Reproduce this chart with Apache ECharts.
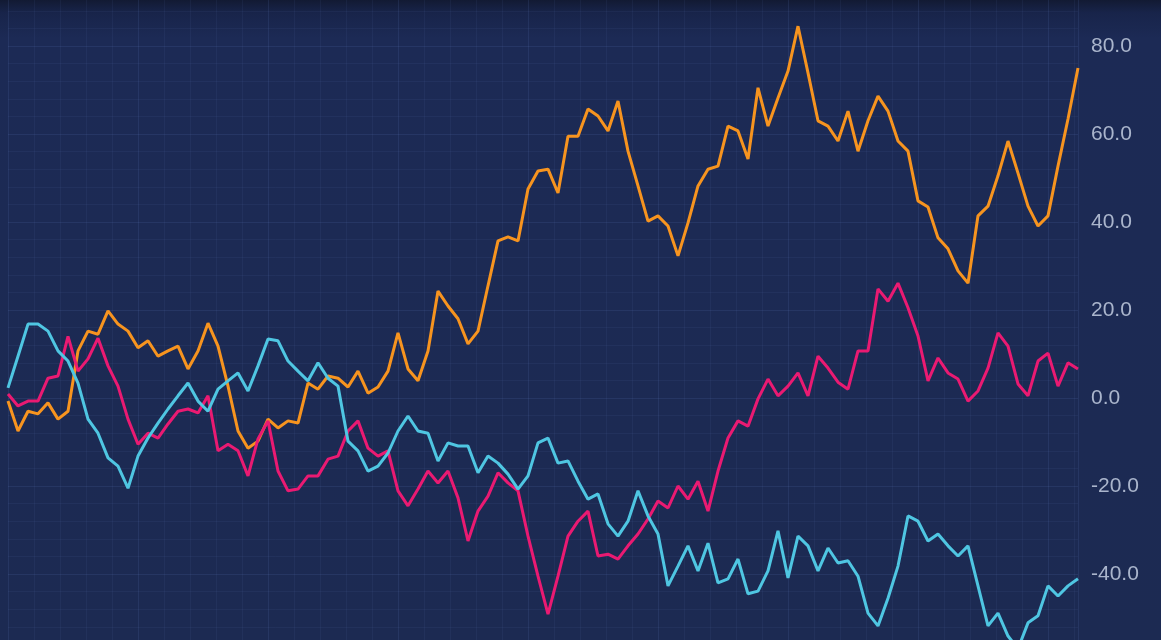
<!DOCTYPE html>
<html>
<head>
<meta charset="utf-8">
<script src="https://cdn.jsdelivr.net/npm/echarts@6/dist/echarts.min.js"></script>
<style>
html,body{margin:0;padding:0;background:#1c2a54;}
#chart{width:1161px;height:640px;}
</style>
</head>
<body>
<div id="chart"></div>
<script>
// Y tick labels (shown on right)
const yTicks = [-60, -40, -20, 0, 20, 40, 60, 80, 100];

// Series values (one value per step)
const orangeValues = [
  -0.7, -7.5, -3.0, -3.6, -1.1, -4.8, -3.0, 10.7, 15.2, 14.5,
  19.8, 16.8, 15.2, 11.4, 13.0, 9.5, 10.7, 11.8, 6.6, 10.7,
  17.0, 11.8, 2.7, -7.5, -11.4, -9.8, -4.8, -6.8, -5.2, -5.7,
  3.4, 2.0, 5.0, 4.5, 2.5, 6.1, 1.1, 2.5, 6.1, 14.8,
  6.6, 3.9, 10.7, 24.3, 20.9, 18.0, 12.3, 15.2, 25.5, 35.7,
  36.6, 35.7, 47.5, 51.6, 52.0, 46.6, 59.5, 59.5, 65.7, 64.1,
  60.7, 67.5, 56.1, 48.2, 40.2, 41.4, 39.1, 32.3, 39.8, 48.2,
  52.0, 52.7, 61.8, 60.7, 54.3, 70.5, 61.8, 68.2, 74.3, 84.5,
  73.9, 63.0, 61.8, 58.4, 65.2, 56.1, 63.0, 68.6, 65.2, 58.4,
  56.1, 44.8, 43.4, 36.4, 33.9, 28.9, 26.1, 41.4, 43.6, 50.5,
  58.4, 51.1, 43.6, 39.1, 41.4, 52.7, 63.4, 75.0
];
const pinkValues = [
  0.9, -1.8, -0.7, -0.7, 4.5, 5.0, 14.0, 6.1, 8.9, 13.6,
  7.3, 2.7, -4.8, -10.5, -8.0, -9.1, -5.9, -3.0, -2.5, -3.4,
  0.5, -12.0, -10.5, -12.0, -17.7, -9.3, -5.2, -16.6, -21.1, -20.7,
  -17.7, -17.7, -13.9, -13.2, -7.5, -5.2, -11.4, -13.2, -12.0, -21.1,
  -24.5, -20.7, -16.6, -19.3, -16.6, -22.7, -32.5, -25.7, -22.3, -17.0,
  -19.3, -21.1, -31.4, -40.5, -49.1, -40.5, -31.4, -28.0, -25.7, -35.9,
  -35.5, -36.6, -33.6, -30.9, -27.5, -23.4, -25.0, -20.0, -23.0, -18.9,
  -25.7, -16.6, -9.1, -5.2, -6.4, -0.2, 4.3, 0.5, 2.7, 5.7,
  0.5, 9.5, 6.8, 3.6, 2.0, 10.7, 10.7, 24.8, 22.0, 26.1,
  20.5, 14.1, 3.9, 9.1, 5.7, 4.3, -0.7, 1.6, 6.8, 14.8,
  11.8, 3.2, 0.5, 8.4, 10.2, 2.7, 8.0, 6.6
];
const cyanValues = [
  2.3, 9.5, 16.8, 16.8, 15.2, 10.7, 8.4, 3.4, -4.8, -8.0,
  -13.6, -15.5, -20.5, -13.2, -9.1, -5.7, -2.5, 0.5, 3.4, -0.7,
  -3.0, 2.0, 3.9, 5.7, 1.6, 7.3, 13.4, 13.0, 8.4, 6.1,
  3.9, 8.0, 4.5, 2.7, -9.8, -12.0, -16.6, -15.5, -12.5, -7.5,
  -4.1, -7.5, -8.0, -14.3, -10.2, -10.9, -10.9, -17.0, -13.2, -14.8,
  -17.3, -20.7, -17.7, -10.2, -9.1, -14.8, -14.3, -18.9, -23.0, -21.8,
  -28.6, -31.4, -28.0, -21.1, -26.8, -30.9, -42.7, -38.2, -33.6, -39.3,
  -33.0, -42.0, -41.1, -36.6, -44.5, -43.9, -39.3, -30.2, -40.9, -31.4,
  -33.6, -39.3, -34.1, -37.5, -37.0, -40.5, -48.9, -51.8, -45.5, -38.2,
  -26.8, -28.0, -32.5, -30.9, -33.6, -35.9, -33.6, -42.7, -51.8, -48.9,
  -54.1, -57.0, -51.1, -49.5, -42.7, -45.0, -42.7, -41.1
];

const steps = orangeValues.map((_, i) => i);
const toPairs = vals => vals.map((v, i) => [steps[i], v]);

const chart = echarts.init(document.getElementById('chart'), null, {renderer: 'canvas'});
chart.setOption({
  animation: false,
  backgroundColor: {
    type: 'linear', x: 0, y: 0, x2: 0, y2: 1,
    colorStops: [
      {offset: 0, color: '#121a33'},
      {offset: 0.02, color: '#18244a'},
      {offset: 0.06, color: '#1c2a55'},
      {offset: 1, color: '#1c2a52'}
    ]
  },
  grid: {left: 8, right: 83, top: -42, bottom: -22, containLabel: false, outerBoundsMode: 'none'},
  xAxis: {
    type: 'value',
    min: 0,
    max: steps[steps.length - 1],
    interval: 13,
    axisLine: {show: false},
    axisTick: {show: false},
    axisLabel: {show: false},
    splitLine: {show: true, lineStyle: {color: 'rgba(110,140,210,0.13)', width: 1}},
    minorTick: {show: false, splitNumber: 5},
    minorSplitLine: {show: true, lineStyle: {color: 'rgba(110,140,210,0.07)', width: 1}}
  },
  yAxis: {
    type: 'value',
    position: 'right',
    min: yTicks[0],
    max: yTicks[yTicks.length - 1],
    interval: 20,
    axisLine: {show: false},
    axisTick: {show: false},
    axisLabel: {
      show: true,
      margin: 13,
      color: '#aab5cc',
      fontSize: 21,
      fontFamily: 'Liberation Sans, Arial, sans-serif',
      formatter: v => v.toFixed(1)
    },
    splitLine: {show: true, lineStyle: {color: 'rgba(110,140,210,0.13)', width: 1}},
    minorTick: {show: false, splitNumber: 5},
    minorSplitLine: {show: true, lineStyle: {color: 'rgba(110,140,210,0.07)', width: 1}}
  },
  series: [
    {type: 'line', data: toPairs(orangeValues), showSymbol: false, lineStyle: {color: '#f7941f', width: 3}, itemStyle: {color: '#f7941f'}},
    {type: 'line', data: toPairs(pinkValues), showSymbol: false, lineStyle: {color: '#ea1a72', width: 3}, itemStyle: {color: '#ea1a72'}},
    {type: 'line', data: toPairs(cyanValues), showSymbol: false, lineStyle: {color: '#4fc6e2', width: 3}, itemStyle: {color: '#4fc6e2'}}
  ]
});
</script>
</body>
</html>
